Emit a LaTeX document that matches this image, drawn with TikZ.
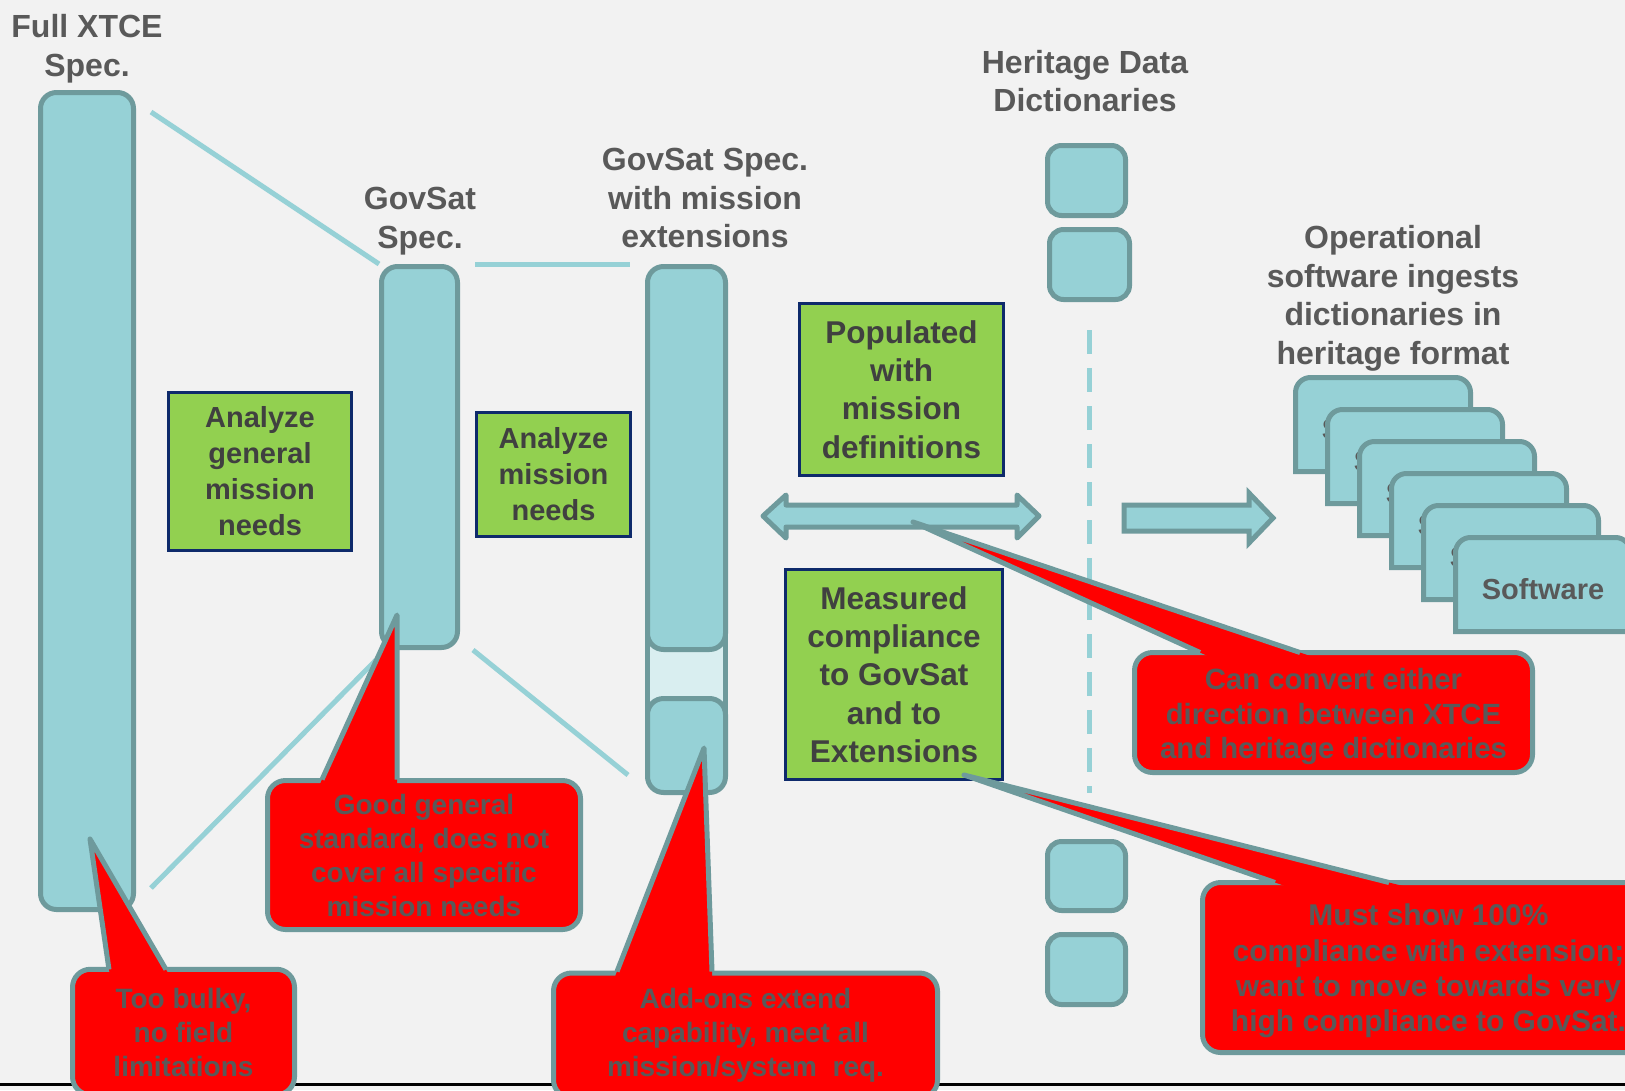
\documentclass[tikz,border=0pt]{standalone}
\usepackage{fontspec}
\setmainfont{Liberation Sans}
\usetikzlibrary{calc}
\definecolor{bg}{HTML}{F2F2F2}
\definecolor{tealf}{HTML}{96D1D6}
\definecolor{teald}{HTML}{6E9A9C}
\definecolor{pale}{HTML}{D9EEF0}
\definecolor{grn}{HTML}{92D050}
\definecolor{navy}{HTML}{0E2A6B}
\definecolor{txt}{HTML}{595959}
\definecolor{txtd}{HTML}{404040}
\definecolor{cred}{HTML}{FF0000}
\tikzset{
  bar/.style={draw=teald, fill=tealf, line width=5pt, rounded corners=16pt, inner sep=0pt},
  hbox/.style={draw=teald, fill=tealf, line width=5pt, rounded corners=14pt, inner sep=0pt},
  gbox/.style={draw=navy, fill=grn, line width=3pt, inner sep=0pt, align=center, text=txtd, font=\fontsize{29}{36}\selectfont\bfseries},
  gboxbig/.style={gbox, font=\fontsize{31.5}{38.3}\selectfont\bfseries},
  title/.style={align=center, text=txt, font=\fontsize{32}{38.5}\selectfont\bfseries, inner sep=0pt},
  cbody/.style={draw=teald, fill=cred, line width=5pt, rounded corners=18pt, align=center, text=txt, font=\fontsize{28}{34}\selectfont\bfseries, inner sep=0pt},
  ctext/.style={align=center, text=txt, inner sep=0pt},
  cedge/.style={draw=teald, line width=5pt, line join=round},
  link/.style={draw=tealf, line width=5pt},
  tshape/.style={draw=teald, fill=tealf, line width=5pt},
  swtext/.style={text=txt, font=\fontsize{29}{34}\selectfont\bfseries, inner sep=0pt},
}
\begin{document}
\begin{tikzpicture}[x=1pt,y=-1pt]
\useasboundingbox (0,0) rectangle (1625,1090);
\clip (0,0) rectangle (1625,1090);
\fill[bg] (0,0) rectangle (1625,1090);

% bottom rule
\coordinate (r0) at (0,1084);
\coordinate (r1) at (1625,1084);
\draw[black, line width=3pt] (r0) -- (r1);

% connecting lines
\coordinate (l1a) at (151,112);  \coordinate (l1b) at (379,264);
\coordinate (l2a) at (151,888);  \coordinate (l2b) at (376,660);
\coordinate (l3a) at (475,264);  \coordinate (l3b) at (630,264);
\coordinate (l4a) at (473,650);  \coordinate (l4b) at (628,775);
\draw[link] (l1a) -- (l1b);
\draw[link] (l2a) -- (l2b);
\draw[link] (l3a) -- (l3b);
\draw[link] (l4a) -- (l4b);

% bars
\node[bar, minimum width=93pt, minimum height=817pt] (xtce) at (87,501) {};
\node[bar, minimum width=76pt, minimum height=381pt] (gov) at (419.5,457) {};
\draw[draw=teald, fill=pale, line width=5pt] (647.5,620) rectangle (725.5,720);
\node[bar, minimum width=78pt, minimum height=383pt] (extu) at (686.5,458) {};
\node[bar, minimum width=78pt, minimum height=94pt] (extl) at (686.5,745.5) {};

% titles
\node[title] (t1) at (87,48.5) {Full XTCE\\Spec.};
\node[title] (t2) at (420,221) {GovSat\\Spec.};
\node[title] (t3) at (705,198) {GovSat Spec.\\with mission\\extensions};
\node[title] (t4) at (1085,81) {Heritage Data\\Dictionaries};
\node[title] (t5) at (1393,298.5) {Operational\\software ingests\\dictionaries in\\heritage format};

% green boxes
\node[gbox, minimum width=183pt, minimum height=158pt] (ga) at (260,471) {Analyze\\general\\mission\\needs};
\node[gbox, minimum width=154pt, minimum height=124pt] (gb) at (553.5,474.5) {Analyze\\mission\\needs};
\node[gboxbig, minimum width=204pt, minimum height=172pt] (gc) at (901.5,389.5) {Populated\\with\\mission\\definitions};
\node[gboxbig, minimum width=217pt, minimum height=210pt] (gd) at (894,674.5) {Measured\\compliance\\to GovSat\\and to\\Extensions};

% heritage dictionaries
\node[hbox, minimum width=78pt, minimum height=70pt] (h1) at (1086.5,180.5) {};
\node[hbox, minimum width=80pt, minimum height=70pt] (h2) at (1089.5,264.5) {};
\node[hbox, minimum width=78pt, minimum height=69pt] (h3) at (1086.5,876) {};
\node[hbox, minimum width=78pt, minimum height=70pt] (h4) at (1086.5,969.5) {};
\coordinate (d0) at (1089,330);
\coordinate (d1) at (1089,793);
\draw[link, dash pattern=on 24pt off 14pt] (d0) -- (d1);

% double arrow
\draw[tshape, line join=round] (763,516) -- (786,495) -- (786,505) -- (1017,505) -- (1017,495) -- (1039,516) -- (1017,538) -- (1017,527) -- (786,527) -- (786,538) -- cycle;
\coordinate (da) at (913,522);

% right arrow
\draw[tshape] (1124,505) -- (1249,505) -- (1249,493) -- (1273,518) -- (1249,543) -- (1249,531) -- (1124,531) -- cycle;

% software stack
\foreach \i in {0,...,5} {
  \pgfmathsetmacro{\cx}{1295.5+32*\i}
  \pgfmathsetmacro{\cy}{377.5+32*\i}
  \draw[tshape] (\cx,\cy+94) -- (\cx,\cy+15) arc[start angle=180,end angle=90,radius=15pt] -- (\cx+160,\cy) arc[start angle=90,end angle=0,radius=15pt] -- (\cx+175,\cy+94) -- cycle;
  \node[swtext] (sw\i) at (\cx+87.5,\cy+52) {Software};
}

% callout 1
\node[cbody, minimum width=222pt, minimum height=125.5pt] (c1) at (183.5,1032) {Too bulky,\\no field\\limitations};
\coordinate (c1t) at (90,839); \coordinate (c1l) at (109,969.5); \coordinate (c1r) at (166,969.5);
\fill[cred] (c1t) -- ($(c1t)!1.07!(c1l)$) -- ($(c1t)!1.07!(c1r)$) -- cycle;
\draw[cedge] (c1l) -- (c1t) -- (c1r);

% callout 2
\node[cbody, minimum width=313pt, minimum height=149pt] (c2) at (424,855) {Good general\\standard, does not\\cover all specific\\mission needs};
\coordinate (c2t) at (397,615); \coordinate (c2l) at (322,779.5); \coordinate (c2r) at (397,779.5);
\fill[cred] (c2t) -- ($(c2t)!1.06!(c2l)$) -- ($(c2t)!1.06!(c2r)$) -- cycle;
\draw[cedge] (c2l) -- (c2t) -- (c2r);

% callout 3
\node[cbody, minimum width=384pt, minimum height=125pt] (c3) at (745.5,1035.5) {Add-ons extend\\capability, meet all\\mission/system\ \ req.};
\coordinate (c3t) at (704,748); \coordinate (c3l) at (617,971.5); \coordinate (c3r) at (712,971.5);
\fill[cred] (c3t) -- ($(c3t)!1.05!(c3l)$) -- ($(c3t)!1.05!(c3r)$) -- cycle;
\draw[cedge] (c3l) -- (c3t) -- (c3r);

% callout 4
\node[cbody, minimum width=398pt, minimum height=120pt] (c4) at (1333.5,712.5) {};
\node[ctext, font=\fontsize{29.3}{34.7}\selectfont\bfseries] (c4x) at (1333.5,716.5) {Can convert either\\direction between XTCE\\and heritage dictionaries};
\coordinate (c4l) at (1200,652.5); \coordinate (c4r) at (1300,652.5);
\fill[cred] (da) -- ($(da)!1.05!(c4l)$) -- ($(da)!1.05!(c4r)$) -- cycle;
\draw[cedge] (c4l) -- (da) -- (c4r);

% callout 5
\node[cbody, minimum width=447pt, minimum height=170pt] (c5) at (1426,967.5) {};
\node[ctext, font=\fontsize{30}{35.2}\selectfont\bfseries] (c5x) at (1428.5,971) {Must show 100\%\\compliance with extension;\\want to move towards very\\high compliance to GovSat.};
\coordinate (c5t) at (964,775); \coordinate (c5l) at (1275,882.5); \coordinate (c5r) at (1389,882.5);
\fill[cred] (c5t) -- ($(c5t)!1.06!(c5l)$) -- ($(c5t)!1.06!(c5r)$) -- cycle;
\draw[cedge] (c5l) -- (c5t) -- (c5r);
\end{tikzpicture}
\end{document}
